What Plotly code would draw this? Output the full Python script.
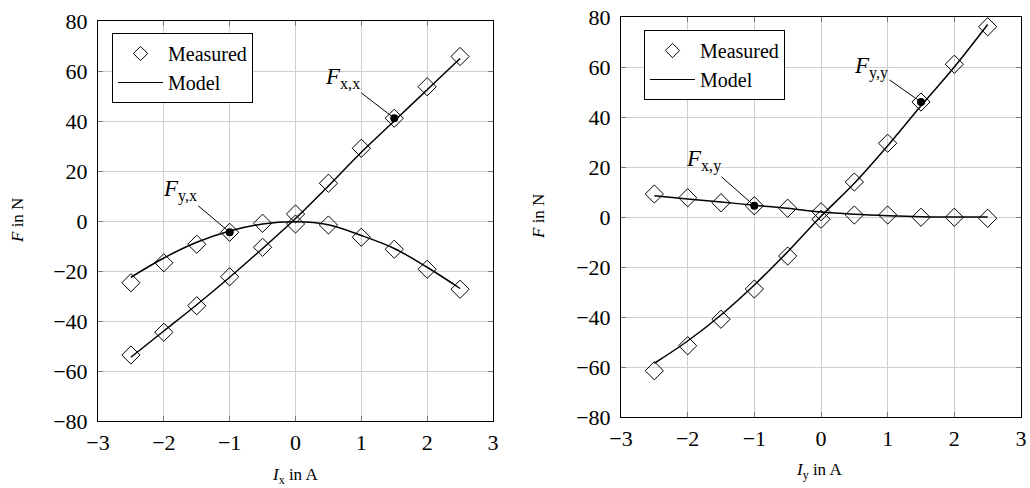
import plotly.graph_objects as go

# ---------------- data ----------------
current = [-2.5, -2, -1.5, -1, -0.5, 0, 0.5, 1, 1.5, 2, 2.5]

# left panel (I_x varied)
fxx_meas = [-53.6, -44.5, -33.9, -22.3, -10.5, 2.8, 15.1, 29.1, 41.1, 53.7, 65.8]
fyx_meas = [-24.7, -16.7, -9.3, -4.5, -0.9, -1.2, -1.6, -6.5, -11.3, -19.3, -27.3]
fxx_model = [-54.5, -44.0, -33.5, -22.5, -11.0, 1.0, 14.0, 27.5, 40.0, 52.5, 65.0]
fyx_model = [-22.5, -14.8, -8.5, -4.0, -1.2, -0.3, -1.5, -5.8, -11.0, -18.5, -27.0]

# right panel (I_y varied)
fyy_meas = [-61.5, -51.5, -40.9, -28.8, -15.6, -0.9, 14.0, 29.5, 46.0, 61.1, 76.1]
fxy_meas = [9.2, 7.7, 5.7, 4.5, 3.5, 2.1, 0.8, 0.8, -0.1, -0.1, -0.5]
fyy_model = [-58.5, -49.6, -39.2, -27.2, -13.9, 0.3, 13.5, 28.5, 44.5, 60.0, 77.0]
fxy_model = [8.5, 7.2, 6.0, 4.7, 3.5, 2.0, 1.1, 0.5, 0.1, 0.0, 0.0]

x_ticks = [-3, -2, -1, 0, 1, 2, 3]
y_ticks = [-80, -60, -40, -20, 0, 20, 40, 60, 80]

# highlighted operating points
hl_left_fyx = -1
hl_left_fxx = 1.5
hl_right_fxy = -1
hl_right_fyy = 1.5

SERIF = "Liberation Serif"

fig = go.Figure()


def add_panel(xa, ya, meas_a, meas_b, model_a, model_b, legend_name, hl_a, hl_b):
    for m in (meas_a, meas_b):
        fig.add_trace(go.Scatter(
            x=current, y=m, mode="markers", name="Measured",
            marker=dict(symbol="diamond-open", size=14, color="black", line=dict(width=1, color="black")),
            xaxis=xa, yaxis=ya, showlegend=False))
    for m in (model_a, model_b):
        fig.add_trace(go.Scatter(
            x=current, y=m, mode="lines", name="Model",
            line=dict(color="black", width=1.5, shape="spline"),
            xaxis=xa, yaxis=ya, showlegend=False))
    ia = current.index(hl_a)
    ib = current.index(hl_b)
    fig.add_trace(go.Scatter(
        x=[current[ia], current[ib]], y=[meas_a[ia], meas_b[ib]], mode="markers",
        marker=dict(symbol="circle", size=8, color="black"),
        xaxis=xa, yaxis=ya, showlegend=False, hoverinfo="skip"))
    # legend entries
    fig.add_trace(go.Scatter(
        x=[None], y=[None], mode="markers", name="Measured",
        marker=dict(symbol="diamond-open", size=11, color="black", line=dict(width=1, color="black")),
        xaxis=xa, yaxis=ya, legend=legend_name, showlegend=True))
    fig.add_trace(go.Scatter(
        x=[None], y=[None], mode="lines", name="Model",
        line=dict(color="black", width=1.2),
        xaxis=xa, yaxis=ya, legend=legend_name, showlegend=True))


add_panel("x", "y", fyx_meas, fxx_meas, fyx_model, fxx_model, "legend", hl_left_fyx, hl_left_fxx)
add_panel("x2", "y2", fxy_meas, fyy_meas, fxy_model, fyy_model, "legend2", hl_right_fxy, hl_right_fyy)

axis_common = dict(
    range=[-3, 3], tickvals=x_ticks, showgrid=True, gridcolor="#cfcfcf", gridwidth=1,
    zeroline=False, showline=True, mirror="allticks", linecolor="black", linewidth=1,
    ticks="inside", ticklen=5, tickcolor="#777777", tickwidth=1, automargin=False,
    ticklabeloverflow="allow",
    tickfont=dict(family=SERIF, size=22, color="black"), fixedrange=True,
)
yaxis_common = dict(axis_common)
yaxis_common.update(range=[-80, 80], tickvals=y_ticks)

W, H = 1030, 488
fig.update_layout(
    width=W, height=H,
    margin=dict(l=0, r=0, t=0, b=0, autoexpand=False),
    plot_bgcolor="white", paper_bgcolor="white",
    font=dict(family=SERIF, color="black"),
    xaxis=dict(axis_common, domain=[98 / W, 493 / W], anchor="y", ticklabelstandoff=2),
    yaxis=dict(yaxis_common, domain=[(H - 421) / H, (H - 21) / H], anchor="x", ticklabelstandoff=5),
    xaxis2=dict(axis_common, domain=[621 / W, 1021 / W], anchor="y2", ticklabelstandoff=2),
    yaxis2=dict(yaxis_common, domain=[(H - 417) / H, (H - 17) / H], anchor="x2", ticklabelstandoff=5),
    legend=dict(x=112 / W, y=(H - 33) / H, xanchor="left", yanchor="top",
                bgcolor="white", bordercolor="black", borderwidth=1, itemwidth=45,
                font=dict(family=SERIF, size=20, color="black"), tracegroupgap=0),
    legend2=dict(x=644 / W, y=(H - 30) / H, xanchor="left", yanchor="top",
                 bgcolor="white", bordercolor="black", borderwidth=1, itemwidth=45,
                 font=dict(family=SERIF, size=20, color="black"), tracegroupgap=0),
)

ann_font = dict(family=SERIF, size=23, color="black")


def label(text, xref, yref, xv, yv, ax, ay):
    fig.add_annotation(text=text, x=xv, y=yv, xref=xref, yref=yref, ax=ax, ay=ay,
                       showarrow=True, arrowhead=0, arrowwidth=1, arrowcolor="black",
                       standoff=4, font=ann_font)


label("<i>F</i><sub>y,x</sub>", "x", "y", hl_left_fyx, fyx_meas[current.index(hl_left_fyx)], -50, -42)
label("<i>F</i><sub>x,x</sub>", "x", "y", hl_left_fxx, fxx_meas[current.index(hl_left_fxx)], -52, -40)
label("<i>F</i><sub>x,y</sub>", "x2", "y2", hl_right_fxy, fxy_meas[current.index(hl_right_fxy)], -51, -45)
label("<i>F</i><sub>y,y</sub>", "x2", "y2", hl_right_fyy, fyy_meas[current.index(hl_right_fyy)], -50, -35)

title_font = dict(family=SERIF, size=17, color="black")
fig.add_annotation(text="<i>I</i><sub>x</sub> in A", x=295 / W, y=(H - 476) / H, xref="paper", yref="paper",
                   showarrow=False, font=title_font, xanchor="center", yanchor="middle")
fig.add_annotation(text="<i>I</i><sub>y</sub> in A", x=819 / W, y=(H - 471) / H, xref="paper", yref="paper",
                   showarrow=False, font=title_font, xanchor="center", yanchor="middle")
fig.add_annotation(text="<i>F</i> in N", x=17 / W, y=(H - 221) / H, xref="paper", yref="paper",
                   showarrow=False, font=title_font, textangle=-90, xanchor="center", yanchor="middle")
fig.add_annotation(text="<i>F</i> in N", x=538 / W, y=(H - 217) / H, xref="paper", yref="paper",
                   showarrow=False, font=title_font, textangle=-90, xanchor="center", yanchor="middle")

fig.write_html("out.html", config={"displayModeBar": False},
               post_script="document.body.style.margin='0px';document.body.style.overflow='hidden';")
